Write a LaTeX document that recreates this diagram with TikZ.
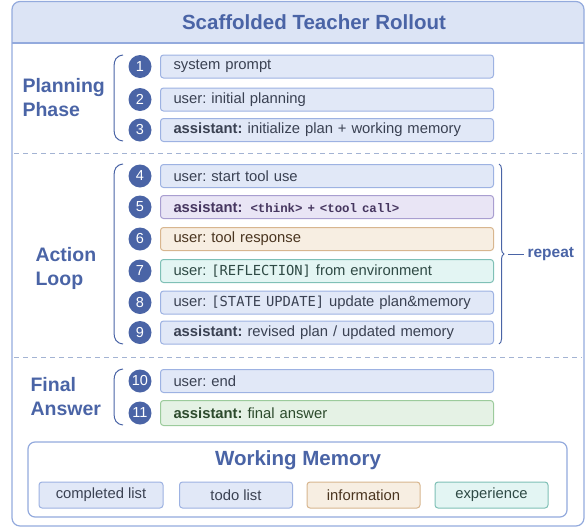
\documentclass[tikz,border=0pt]{standalone}
\usepackage{fontspec}
\setmainfont{Liberation Sans}
\newfontfamily\codefont{Liberation Mono}
\newfontfamily\tagfont{DejaVu Sans Mono}
\usetikzlibrary{decorations.pathreplacing}
\definecolor{mainblue}{HTML}{4A64A6}
\definecolor{framec}{HTML}{93AADD}
\definecolor{hdrfill}{HTML}{DCE4F5}
\definecolor{bluefill}{HTML}{E1E8F7}
\definecolor{blueline}{HTML}{9DB2E2}
\definecolor{purpfill}{HTML}{E9E5F5}
\definecolor{purpline}{HTML}{A99ED0}
\definecolor{purptext}{HTML}{46365F}
\definecolor{orfill}{HTML}{F7EEE2}
\definecolor{orline}{HTML}{D8B68F}
\definecolor{ortext}{HTML}{4A3520}
\definecolor{tealfill}{HTML}{E3F5F3}
\definecolor{tealline}{HTML}{7FC0B6}
\definecolor{tealtext}{HTML}{2F4A45}
\definecolor{grfill}{HTML}{E5F2E5}
\definecolor{grline}{HTML}{9CCB9C}
\definecolor{grtext}{HTML}{2C4A2C}
\definecolor{btext}{HTML}{3A4152}
\definecolor{dashc}{HTML}{A3B3D3}
\tikzset{
  itembox/.style={draw=blueline, fill=bluefill, line width=1pt, rounded corners=3pt,
    minimum height=23pt, text width=307pt, inner xsep=13pt, inner ysep=0pt, align=left,
    anchor=west, font=\fontsize{14.8}{16}\selectfont, text=btext},
  numc/.style={circle, fill=mainblue, text=white, minimum size=23pt, inner sep=0pt,
    font=\fontsize{14.5}{15}\selectfont},
  seclabel/.style={align=left, anchor=west, text=mainblue, font=\bfseries\fontsize{19.5}{24}\selectfont},
  bracket/.style={draw=mainblue, line width=1pt},
  chip/.style={draw=blueline, fill=bluefill, line width=1pt, rounded corners=3pt,
    minimum width=113pt, minimum height=26pt, inner sep=0pt, font=\fontsize{14.8}{16}\selectfont, text=btext},
}
\begin{document}
\frenchspacing
\begin{tikzpicture}[x=1pt,y=-1pt]
\useasboundingbox (0,0) rectangle (587,528);
% header fill
\fill[hdrfill] (12,43) [rounded corners=8pt] -- (12,1.5) -- (584,1.5) [sharp corners] -- (584,43) -- cycle;
\draw[framec, line width=1.2pt] (12,43) -- (584,43);
\draw[framec, line width=1.2pt, rounded corners=8pt] (12,1.5) rectangle (584,526);
\node[text=mainblue, font=\bfseries\fontsize{20.5}{22}\selectfont] (title) at (314,22) {Scaffolded Teacher Rollout};
% separators
\draw[dashc, dash pattern=on 5pt off 4pt, line width=1pt] (14,153) -- (582,153);
\draw[dashc, dash pattern=on 5pt off 4pt, line width=1pt] (14,357) -- (582,357);
% section labels
\node[seclabel] (plan) at (19,98) {Planning\\Phase};
\node[seclabel] (act) at (32,268) {Action\\Loop};
\node[seclabel] (fin) at (27,397) {Final\\Answer};
% brackets
\draw[bracket] (123,55) .. controls (116,56) and (114,60) .. (114,67) -- (114,129) .. controls (114,136) and (116,140) .. (123,141);
\draw[bracket] (123,164) .. controls (116,165) and (114,169) .. (114,176) -- (114,332) .. controls (114,339) and (116,343) .. (123,344);
\draw[bracket] (123,369) .. controls (116,370) and (114,374) .. (114,381) -- (114,413) .. controls (114,420) and (116,424) .. (123,425);
% right brace
\draw[bracket, decorate, decoration={brace, amplitude=5pt}] (499,164) -- (499,344);
\coordinate (btip) at (508,254);
\node[text=mainblue, font=\bfseries\fontsize{15.5}{17}\selectfont, anchor=west] (rep) at (524,254) {repeat};
\draw[bracket] (btip) -- (rep.west);
% items
\node[itembox] (b1) at (160,66.5) {system prompt};
\node[itembox] (b2) at (160,99.5) {user: initial planning};
\node[itembox] (b3) at (160,130) {\textbf{assistant:} initialize plan + working memory};
\node[itembox] (b4) at (160,176) {user: start tool use};
\node[itembox, draw=purpline, fill=purpfill, text=purptext] (b5) at (160,207) {\textbf{assistant:} \hspace{3pt}{\codefont\bfseries\fontsize{12.4}{13}\selectfont <think> + <tool call>}};
\node[itembox, draw=orline, fill=orfill, text=ortext] (b6) at (160,239) {user: tool response};
\node[itembox, draw=tealline, fill=tealfill, text=tealtext] (b7) at (160,271) {user: {\tagfont\fontsize{13.8}{15}\selectfont [REFLECTION]} from environment};
\node[itembox] (b8) at (160,302.5) {user: {\tagfont\fontsize{13.8}{15}\selectfont [STATE UPDATE]} update plan\&memory};
\node[itembox] (b9) at (160,332.5) {\textbf{assistant:} revised plan / updated memory};
\node[itembox] (b10) at (160,381) {user: end};
\node[itembox, draw=grline, fill=grfill, text=grtext, minimum height=25pt] (b11) at (160,413) {\textbf{assistant:} final answer};
% number circles
\foreach \n/\y in {1/66.5,2/99.5,3/130,4/176,5/207,6/239,7/271,8/302.5,9/332.5,10/381,11/413}{
  \node[numc] (c\n) at (140,\y) {\n};
}
% working memory
\draw[framec, line width=1.2pt, rounded corners=7pt, fill=white] (28,442) rectangle (567,517);
\node[text=mainblue, font=\bfseries\fontsize{20.5}{22}\selectfont] (wm) at (298,460) {Working Memory};
\node[chip, minimum width=124pt] (m1) at (101,495) {completed list};
\node[chip] (m2) at (236,495) {todo list};
\node[chip, draw=orline, fill=orfill, text=ortext] (m3) at (363.5,495) {information};
\node[chip, draw=tealline, fill=tealfill, text=tealtext] (m4) at (491.5,495) {experience};
\end{tikzpicture}
\end{document}
